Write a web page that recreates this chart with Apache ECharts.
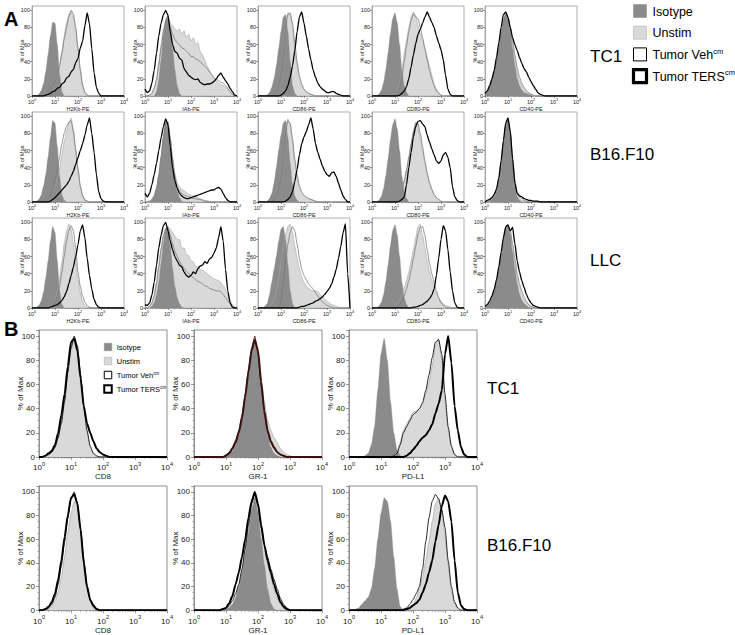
<!DOCTYPE html>
<html><head><meta charset="utf-8">
<script src="https://cdn.jsdelivr.net/npm/echarts@6/dist/echarts.min.js"></script>
<style>html,body{margin:0;padding:0;background:#fff}#c{width:735px;height:635px}</style>
</head><body><div id="c"></div>
<script>
// log10 positions of the histogram samples (decades)
const LOGX = [0,0.1,0.2,0.3,0.4,0.5,0.6,0.7,0.8,0.9,1,1.1,1.2,1.3,1.4,1.5,1.6,1.7,1.8,1.9,2,2.1,2.2,2.3,2.4,2.5,2.6,2.7,2.8,2.9,3,3.1,3.2,3.3,3.4,3.5,3.6,3.7,3.8,3.9,4];
const X_TICKS = [1,10,100,1000,10000];
const X_MINOR = [2,3,4,5,6,7,8,9,20,30,40,50,60,70,80,90,200,300,400,500,600,700,800,900,2000,3000,4000,5000,6000,7000,8000,9000];
const LEGEND_NAMES = ['Isotype','Unstim','Tumor Veh','Tumor TERS'];
const LEGEND_SUP = ['','','cm','cm'];
const A_MARKERS = ['H2Kb-PE','IAb-PE','CD86-PE','CD80-PE','CD40-PE'];
const A_LINES = ['TC1','B16.F10','LLC'];
const B_MARKERS = ['CD8','GR-1','PD-L1'];
const B_LINES = ['TC1','B16.F10'];

// ---- Panel A, TC1 ----
const A_TC1_H2Kb = {
 iso:[0,0,0,2,6,14,28,48,70,86,85,60,25,5,0],
 uns:[0,0,0,0,0,1,2,4,6,10,14,22,35,52,70,85,95,99,92,78,55,32,14,5,1],
 veh:[0,0,0,0,0,1,2,4,7,11,16,24,36,50,66,80,92,100,96,80,56,30,12,4,1],
 ters:[0,0,0,0,0,0,1,2,3,5,6,9,10,14,16,21,23,28,31,39,44,56,64,82,97,84,55,27,10,3,0]};
const A_TC1_IAb = {
 iso:[0,0,0,0,0,5,18,42,70,90,95,80,55,30,12,3,0],
 uns:[0,0,1,3,10,20,40,60,78,88,92,85,82,78,76,78,72,76,68,72,64,68,60,62,52,48,42,35,30,24,20,18,15,13,12,10,8,5,2,0,0],
 veh:[0,0,1,3,9,18,36,56,75,86,90,80,72,66,62,60,56,55,52,50,46,46,43,42,40,37,35,32,28,25,21,20,18,16,15,12,9,5,2,0,0],
 ters:[8,4,6,15,30,50,70,85,95,100,94,75,60,52,50,44,42,32,28,24,22,20,19,20,16,14,13,14,14,15,17,20,24,27,22,18,14,9,5,1,0]};
const A_TC1_CD86 = {
 iso:[0,0,0,0,1,4,10,20,35,55,75,92,95,75,40,12,3,0],
 uns:[0,0,0,0,0,0,2,4,8,16,30,55,85,97,95,80,55,35,20,12,7,5,3,2,1,0],
 veh:[0,0,0,0,0,0,1,3,7,14,28,50,80,95,97,85,62,40,24,14,8,5,3,2,1,0],
 ters:[0,0,0,0,0,0,0,0,0,0,1,3,6,12,22,35,53,75,92,98,85,70,55,42,30,22,15,11,8,6,4,4,5,5,3,2,1,0]};
const A_TC1_CD80 = {
 iso:[0,0,0,2,6,15,30,50,72,90,97,85,60,30,12,4,0],
 uns:[0,0,0,0,0,0,0,0,0,0,2,6,15,30,50,65,80,92,98,94,82,72,65,56,46,35,24,14,8,4,1,0],
 veh:[0,0,0,0,0,0,0,0,0,0,1,4,10,22,40,58,75,88,96,92,90,80,68,55,42,30,20,12,6,3,1,0],
 ters:[0,0,0,0,0,0,0,0,0,0,0,0,1,3,6,11,20,34,48,61,72,78,85,92,98,92,86,80,70,62,54,42,24,8,2,0]};
const A_TC1_CD40 = {
 iso:[2,5,10,18,28,40,55,72,88,96,90,75,55,35,20,12,7,4,3,2,1,0],
 uns:[2,5,10,17,27,40,55,72,88,97,92,78,60,42,28,18,12,8,5,3,2,1,0],
 veh:[2,4,9,16,26,38,54,70,86,95,92,80,64,48,33,22,15,10,6,4,2,1,0],
 ters:[3,6,12,20,30,45,62,80,95,98,92,80,68,60,53,45,38,32,28,22,17,12,8,4,2,1,0]};
// ---- Panel A, B16.F10 ----
const A_B16_H2Kb = {
 iso:[0,0,1,3,8,18,32,52,75,95,92,65,30,8,2,0],
 uns:[0,0,0,0,0,0,0,2,5,10,18,28,40,55,70,82,92,98,85,62,40,20,8,3,1,0],
 veh:[0,0,0,0,0,0,1,3,7,14,25,38,52,68,80,88,93,95,82,60,38,18,7,2,1,0],
 ters:[0,0,0,0,0,0,0,0,1,3,5,8,11,14,17,20,24,30,36,44,52,60,68,78,90,98,80,58,32,12,4,1,0]};
const A_B16_IAb = {
 iso:[0,0,0,2,6,15,30,52,75,93,92,70,45,25,12,5,1,0],
 uns:[0,0,1,3,8,17,32,54,77,94,94,75,52,33,22,18,15,13,11,9,8,7,6,5,4,3,2,1,1,0],
 veh:[0,0,1,3,7,16,31,52,76,92,93,74,50,30,18,13,10,8,7,6,5,4,4,3,3,2,1,1,0],
 ters:[10,6,10,20,32,45,60,75,88,97,90,65,40,25,16,10,7,5,4,4,5,6,7,8,9,10,11,12,13,14,14,16,17,15,10,5,2,0]};
const A_B16_CD86 = {
 iso:[0,0,0,0,1,4,10,22,40,60,78,92,95,75,45,20,7,2,0],
 uns:[0,0,0,0,0,0,2,4,8,18,35,60,85,97,90,70,45,28,16,10,7,5,4,3,2,1,0],
 veh:[0,0,0,0,0,0,1,3,7,16,32,57,82,95,92,74,50,32,19,12,8,6,4,3,2,1,0],
 ters:[0,0,0,0,0,0,0,0,0,0,0,0,1,3,6,12,24,38,55,68,76,82,90,98,85,68,58,50,42,36,32,30,34,35,30,22,14,7,3,0]};
const A_B16_CD80 = {
 iso:[0,0,0,2,6,15,30,50,72,90,97,85,60,30,12,4,0],
 uns:[0,0,0,0,0,0,0,0,0,0,1,3,8,15,25,38,52,68,82,93,88,75,60,45,32,22,14,8,5,3,1,0],
 veh:[0,0,0,0,0,0,0,0,0,0,1,3,7,14,24,37,52,68,82,92,92,80,64,48,34,23,15,9,5,3,1,0],
 ters:[0,0,0,0,0,0,0,0,0,0,0,0,1,3,6,20,40,58,76,88,94,95,91,88,78,70,62,55,48,45,48,55,58,52,40,18,6,2,0]};
const A_B16_CD40 = {
 iso:[0,0,1,3,6,12,22,40,65,88,98,80,45,18,6,2,0],
 uns:[0,0,1,3,7,13,24,42,66,88,97,82,50,22,9,4,2,1,0],
 veh:[0,1,2,4,8,15,27,45,68,90,96,82,52,25,11,6,4,2,1,0],
 ters:[0,2,3,5,9,15,28,48,72,92,98,82,50,22,10,7,6,4,3,2,2,1,1,1,0]};
// ---- Panel A, LLC ----
const A_LLC_H2Kb = {
 iso:[0,0,1,3,8,18,35,55,78,95,88,55,20,4,0],
 uns:[0,0,0,0,0,0,0,0,2,5,10,20,35,55,75,90,98,92,75,52,32,18,8,3,1,0],
 veh:[0,0,0,0,0,0,0,0,1,3,7,14,26,42,60,78,90,96,90,70,42,25,14,7,3,1,0],
 ters:[0,0,0,0,0,0,0,0,1,2,3,4,6,9,13,19,28,38,48,60,74,90,97,82,58,38,22,10,4,1,0]};
const A_LLC_IAb = {
 iso:[0,0,0,2,6,15,30,52,75,93,95,72,45,25,12,5,1,0],
 uns:[0,0,2,6,15,30,50,70,85,93,95,92,88,84,80,80,70,70,62,61,55,54,48,49,45,44,42,40,38,36,34,33,32,30,26,22,15,9,4,1,0],
 veh:[0,0,2,6,14,28,48,68,84,92,93,85,75,66,60,55,50,46,43,40,38,35,33,31,30,28,26,25,23,22,21,20,20,19,16,12,8,5,2,0,0],
 ters:[4,3,6,15,30,50,70,85,96,100,90,78,68,60,55,50,48,42,38,36,38,42,40,46,49,50,54,52,57,59,64,70,82,95,78,45,20,6,1,0,0]};
const A_LLC_CD86 = {
 iso:[0,0,0,2,5,15,30,45,60,78,92,95,80,50,20,5,0],
 uns:[0,0,0,0,0,2,5,10,20,35,55,72,86,95,98,88,72,58,45,36,30,26,23,21,20,20,19,16,13,10,8,6,4,3,2,1,0],
 veh:[0,0,0,0,0,0,0,0,0,1,8,30,55,75,88,95,90,75,58,45,38,33,28,25,22,18,14,10,7,5,3,2,1,0],
 ters:[0,0,0,0,0,0,0,0,0,0,0,0,0,0,0,0,0,0,1,2,2,3,4,5,6,8,9,11,13,16,19,23,28,36,45,58,72,88,98,40,0]};
const A_LLC_CD80 = {
 iso:[0,0,0,2,6,15,30,50,72,90,97,85,60,30,12,4,0],
 uns:[0,0,0,0,0,0,0,0,0,0,2,5,10,16,24,32,42,55,68,82,95,98,85,70,55,42,32,24,17,12,8,5,3,2,1,0],
 veh:[0,0,0,0,0,0,0,0,0,0,1,2,4,8,14,22,32,44,58,72,86,94,95,85,68,52,40,30,20,12,6,3,1,0],
 ters:[0,0,0,0,0,0,0,0,0,0,0,0,0,0,0,0,0,0,1,1,2,3,4,6,8,11,15,22,38,58,80,96,90,68,42,20,6,1,0]};
const A_LLC_CD40 = {
 iso:[0,2,5,10,18,28,42,58,75,92,96,85,65,45,28,16,9,5,3,1,0],
 uns:[0,2,5,10,18,28,42,58,76,92,97,88,70,52,36,25,16,10,6,4,2,1,0],
 veh:[1,2,5,10,18,29,43,60,78,93,96,90,75,58,40,28,20,13,8,4,2,1,0],
 ters:[2,4,8,14,22,33,48,65,82,95,97,90,94,75,55,42,32,24,16,10,6,3,2,1,0]};
// ---- Panel B ----
const B_TC1_CD8 = {
 iso:[],
 uns:[0,0,1,2,5,9,18,30,48,70,88,98,90,65,40,20,8,2,0],
 veh:[0,0,1,2,4,8,16,28,46,70,90,100,92,68,42,22,9,3,1,0],
 ters:[0,0,1,3,5,10,20,35,52,75,95,98,88,65,42,28,20,13,7,4,2,1,0]};
const B_TC1_GR1 = {
 iso:[0,0,0,0,0,0,0,0,0,0,1,2,5,10,18,30,48,68,88,98,85,60,35,18,8,3,1,0],
 uns:[0,0,0,0,0,0,0,0,0,0,1,3,5,10,18,30,48,70,90,97,88,65,45,30,22,16,12,7,4,2,1,0],
 veh:[0,0,0,0,0,0,0,0,0,0,2,4,8,14,22,35,52,72,90,100,85,58,35,20,12,7,4,2,1,0],
 ters:[0,0,0,0,0,0,0,0,0,0,1,3,7,12,20,32,50,70,88,97,88,62,38,22,13,8,4,2,1,0]};
const B_TC1_PDL1 = {
 iso:[0,0,0,0,0,1,3,10,25,55,85,98,80,45,20,6,1,0],
 uns:[0,0,0,0,0,0,0,0,0,0,0,0,0,0,1,4,12,22,27,32,37,38,40,44,52,62,75,92,98,80,45,22,8,2,0],
 veh:[0,0,0,0,0,0,0,0,0,0,0,0,0,0,1,3,10,20,25,30,35,37,40,45,55,68,82,95,97,85,52,25,9,2,0],
 ters:[0,0,0,0,0,0,0,0,0,0,0,0,0,0,0,0,0,0,1,3,6,9,13,16,18,22,27,36,44,55,85,100,78,42,22,8,2,0]};
const B_B16_CD8 = {
 iso:[],
 uns:[0,0,0,1,3,8,15,28,45,65,82,92,88,70,45,22,8,2,0],
 veh:[0,0,1,2,5,11,22,38,58,78,94,100,90,68,42,20,8,3,1,0],
 ters:[0,0,1,3,7,14,26,42,62,80,95,98,90,68,40,20,9,4,1,0]};
const B_B16_GR1 = {
 iso:[0,0,0,0,0,0,0,0,0,0,1,2,5,10,20,33,48,65,85,95,82,60,38,18,6,1,0],
 uns:[0,0,0,0,0,0,0,0,0,0,1,3,5,11,20,33,50,68,85,95,88,72,55,40,28,18,10,5,2,0],
 veh:[0,0,0,0,0,0,0,0,0,1,2,4,8,14,22,35,52,72,90,98,88,70,55,45,35,26,18,10,5,2,0],
 ters:[0,0,0,0,0,0,0,0,0,1,2,6,12,22,32,45,60,78,92,100,90,72,55,42,32,22,14,7,3,1,0]};
const B_B16_PDL1 = {
 iso:[0,0,1,2,5,8,11,18,35,60,82,95,92,75,45,18,3,0],
 uns:[0,0,0,0,0,0,0,0,0,0,0,0,0,0,0,0,0,0,1,3,5,10,18,28,42,58,75,90,95,85,62,38,15,5,1,0],
 veh:[0,0,0,0,0,0,0,0,0,0,0,0,0,0,0,0,0,1,2,5,9,14,20,35,58,78,92,98,94,85,70,42,20,7,2,0],
 ters:[0,0,0,0,0,0,0,0,0,0,0,0,0,0,0,0,0,0,1,2,4,6,9,15,22,32,42,58,72,88,97,92,75,42,15,4,1,0]};

const A_PLOTS = [
 [A_TC1_H2Kb, A_TC1_IAb, A_TC1_CD86, A_TC1_CD80, A_TC1_CD40],
 [A_B16_H2Kb, A_B16_IAb, A_B16_CD86, A_B16_CD80, A_B16_CD40],
 [A_LLC_H2Kb, A_LLC_IAb, A_LLC_CD86, A_LLC_CD80, A_LLC_CD40]];
const B_PLOTS = [
 [B_TC1_CD8, B_TC1_GR1, B_TC1_PDL1],
 [B_B16_CD8, B_B16_GR1, B_B16_PDL1]];

const FONT = '"Liberation Sans", Arial, Helvetica, sans-serif';
const C_ISO = '#8b8b8b', C_UNS = '#d9d9d9', C_UNS_LINE = '#a6a6a6';
const grids = [], xAxes = [], yAxes = [], series = [];
function pts(a){ return LOGX.map((lx,i)=>[Math.pow(10,lx), a[i]===undefined?0:a[i]]); }

function addPlot(d, box, st, xname) {
  const k = grids.length;
  grids.push({left:box.l, top:box.t, width:box.w, height:box.h, show:true,
    borderColor:st.border, borderWidth:st.bw, backgroundColor:'#fff'});
  xAxes.push({gridIndex:k, type:'log', logBase:10, min:X_TICKS[0], max:X_TICKS[4],
    name:xname, nameLocation:'middle', nameGap:st.xNameGap,
    nameTextStyle:{fontSize:st.nameFs, fontFamily:FONT, color:'#222'},
    axisLine:{show:true, lineStyle:{color:st.border, width:st.bw}},
    axisTick:{show:true, length:st.tick, lineStyle:{color:'#555', width:0.6}},
    minorTick:{show:false}, splitLine:{show:false}, minorSplitLine:{show:false},
    axisLabel:{margin:st.labMargin, color:'#222', fontFamily:FONT,
      formatter:v=>'{b|10}{s|'+Math.round(Math.log10(v))+'}',
      rich:{b:{fontSize:st.labFs, lineHeight:st.labFs*1.35, verticalAlign:'bottom', fontFamily:FONT, color:'#222'},
            s:{fontSize:st.labFs*0.7, lineHeight:st.labFs*0.7, verticalAlign:'top', fontFamily:FONT, color:'#222'}}}});
  yAxes.push({gridIndex:k, type:'value', min:0, max:105, interval:20,
    name:'% of Max', nameLocation:'middle', nameGap:st.yNameGap, nameMoveOverlap:st.yMove,
    nameTextStyle:{fontSize:st.nameFs, fontFamily:FONT, color:'#222'},
    axisLine:{show:true, lineStyle:{color:st.border, width:st.bw}},
    axisTick:{show:true, length:st.tick, lineStyle:{color:'#555', width:0.6}},
    minorTick:{show:st.yMinor, splitNumber:4, length:st.tick*0.55, lineStyle:{color:'#666', width:0.5}},
    splitLine:{show:false}, minorSplitLine:{show:false},
    axisLabel:{fontSize:st.labFs, margin:st.labMargin, color:'#222', fontFamily:FONT}});
  const base = {type:'line', xAxisIndex:k, yAxisIndex:k, showSymbol:false, symbol:'none',
    silent:true, animation:false, smooth:0.2, smoothMonotone:'x'};
  series.push(Object.assign({}, base, {name:'Unstim', data:pts(d.uns),
    lineStyle:{color:C_UNS_LINE, width:st.unsW}, areaStyle:{color:C_UNS, opacity:1}}));
  if (d.iso.length) series.push(Object.assign({}, base, {name:'Isotype', data:pts(d.iso),
    lineStyle:{color:C_ISO, width:0.4}, areaStyle:{color:C_ISO, opacity:1}}));
  series.push(Object.assign({}, base, {name:'Veh', data:pts(d.veh),
    lineStyle:{color:st.vehColor, width:st.vehW}}));
  series.push(Object.assign({}, base, {name:'TERS', data:pts(d.ters),
    lineStyle:{color:st.tersColor, width:st.tersW}}));
  // log-spaced minor ticks on the x axis
  const mlen = st.tick*0.6;
  series.push({type:'custom', xAxisIndex:k, yAxisIndex:k, silent:true, animation:false, clip:false,
    data:X_MINOR.map(v=>[v,0]),
    renderItem:(p,api)=>{ const c = api.coord([api.value(0),0]);
      return {type:'line', shape:{x1:c[0],y1:c[1],x2:c[0],y2:c[1]+mlen}, style:{stroke:'#666', lineWidth:0.5}}; }});
}

const stA = {border:'#9a9a9a', bw:0.8, tick:2, labFs:5.5, labMargin:2, nameFs:5.5, xNameGap:9, yNameGap:7, yMove:false,
  yMinor:false, unsW:0.6, vehColor:'#7a7a7a', vehW:0.8, tersColor:'#000', tersW:1.3};
const A_LEFT = [32,145,258,372,485], A_TOP = [6,112,218];
A_PLOTS.forEach((row,r)=>row.forEach((d,c)=>addPlot(d,{l:A_LEFT[c],t:A_TOP[r],w:92,h:90},stA,A_MARKERS[c])));

const stB = {border:'#8e8e8e', bw:1, tick:3, labFs:8, labMargin:4, nameFs:8, xNameGap:13, yNameGap:15, yMove:false,
  yMinor:true, unsW:0.7, vehColor:'#111', vehW:0.9, tersColor:'#000', tersW:2};
const stBred = Object.assign({}, stB, {vehColor:'#5a1c1c', tersColor:'#3a1010'});
const B_LEFT = [39,194,349], B_TOP = [330,486];
B_PLOTS.forEach((row,r)=>row.forEach((d,c)=>addPlot(d,{l:B_LEFT[c],t:B_TOP[r],w:128,h:127},
  (r===0&&c===1)?stBred:stB, B_MARKERS[c])));

// legends & labels
const graphic = [];
function txt(x,y,text,size,weight,rich){
  graphic.push({type:'text', x:x, y:y, silent:true, style:{text:text, fontSize:size, fontWeight:weight||'normal',
    fontFamily:FONT, fill:'#000', align:'left', verticalAlign:'middle', rich:rich}});
}
txt(4,19,'A',20,'bold');
txt(4,329,'B',20,'bold');
A_LINES.forEach((s,i)=>txt(590,[56,154,260][i],s,17));
B_LINES.forEach((s,i)=>txt(487,[388,545][i],s,17));
function legend(x,y0,dy,sz,fs,thick,gap){
  LEGEND_NAMES.forEach((n,i)=>{
    const y = y0 + dy*i;
    const sty = [
      {fill:C_ISO, stroke:C_ISO, lineWidth:0.5},
      {fill:C_UNS, stroke:'#bdbdbd', lineWidth:0.8},
      {fill:'#fff', stroke:'#000', lineWidth:1},
      {fill:'#fff', stroke:'#000', lineWidth:thick}][i];
    const half = sz/2;
    graphic.push({type:'rect', silent:true, shape:{x:x-half, y:y-half, width:sz, height:sz}, style:sty});
    const rich = {t:{fontSize:fs, fontFamily:FONT, fill:'#000', lineHeight:fs*1.15, verticalAlign:'bottom'},
                  s:{fontSize:fs*0.6, fontFamily:FONT, fill:'#000', lineHeight:fs*0.6, verticalAlign:'top'}};
    const t = LEGEND_SUP[i] ? '{t|'+n+'}{s|'+LEGEND_SUP[i]+'}' : '{t|'+n+'}';
    txt(x+half+gap, y, t, fs, 'normal', rich);
  });
}
legend(640,11,21.7,13,12.5,3.2,6);
legend(108,347,14,7.5,7.5,2,5);

const chart = echarts.init(document.getElementById('c'), null, {renderer:'svg'});
chart.setOption({animation:false, textStyle:{fontFamily:FONT}, grid:grids, xAxis:xAxes, yAxis:yAxes, series:series, graphic:graphic});
</script></body></html>
